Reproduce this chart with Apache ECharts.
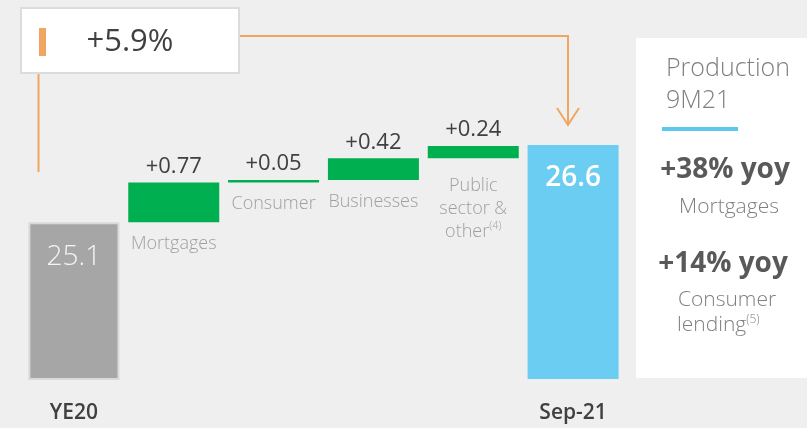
<!DOCTYPE html>
<html>
<head>
<meta charset="utf-8">
<script src="https://cdn.jsdelivr.net/npm/echarts@6/dist/echarts.min.js"></script>
<style>
  html, body { margin: 0; padding: 0; background: #efefef; }
  #chart { width: 807px; height: 428px; }
</style>
</head>
<body>
<div id="chart"></div>
<script>
// data
const categories = ['YE20', 'Mortgages', 'Consumer', 'Businesses', 'Public sector & other', 'Sep-21']
const stepLabels = ['', 'Mortgages', 'Consumer', 'Businesses', 'Public\nsector &\nother{s|(4)}', '']
const startValue = 25.1
const endValue = 26.6
const deltas = [0.77, 0.05, 0.42, 0.24]

const FONT = '"Open Sans", "Noto Sans", sans-serif'
const GREEN = '#00b050'
const ORANGE = '#f0a661'

// 构建瀑布图数据
const baseData = []
const deltaData = []
let running = startValue
baseData.push({
  value: startValue,
  itemStyle: { color: '#a6a6a6', borderColor: '#d9d9d9', borderWidth: 2 },
  label: {
    show: true, position: 'insideTop', distance: 21,
    formatter: String(startValue), color: '#f4f4f4', fontSize: 28, fontWeight: 300
  }
})
deltaData.push('-')
deltas.forEach((d, i) => {
  baseData.push({
    value: +running.toFixed(2),
    itemStyle: { color: 'transparent' },
    label: {
      show: true, position: 'insideTop', distance: i === 3 ? 16 : 10,
      formatter: stepLabels[i + 1], color: '#9f9f9f', fontSize: 18, fontWeight: 300,
      lineHeight: 23, align: 'center',
      rich: { s: { fontSize: 11, verticalAlign: 'top', color: '#9f9f9f', fontWeight: 300, padding: [0, 0, 8, 0] } }
    }
  })
  deltaData.push(d)
  running += d
})
baseData.push({
  value: endValue,
  itemStyle: { color: '#6ccdf3' },
  label: {
    show: true, position: 'insideTop', distance: 19,
    formatter: String(endValue), color: '#ffffff', fontSize: 28, fontWeight: 600
  }
})
deltaData.push('-')

const chart = echarts.init(document.getElementById('chart'))
chart.setOption({
  backgroundColor: '#efefef',
  animation: false,
  textStyle: { fontFamily: FONT },
  grid: { left: 24, right: 184, top: 19, bottom: 49 },
  xAxis: {
    type: 'category',
    data: categories,
    axisLine: { show: false },
    axisTick: { show: false },
    axisLabel: {
      margin: 24,
      interval: 0,
      color: '#404040',
      fontSize: 21,
      fontWeight: 600,
      fontFamily: FONT,
      formatter: (v, i) => (i === 0 || i === categories.length - 1 ? v : '')
    }
  },
  yAxis: {
    type: 'value',
    min: 22.05,
    max: 29.05,
    show: false,
    splitLine: { show: false }
  },
  series: [
    {
      name: 'base',
      type: 'bar',
      stack: 'wf',
      barWidth: 91,
      data: baseData,
      label: { fontFamily: FONT }
    },
    {
      name: 'delta',
      type: 'bar',
      stack: 'wf',
      barWidth: 91,
      itemStyle: { color: GREEN },
      label: {
        show: true,
        position: 'top',
        distance: 5,
        color: '#404040',
        fontSize: 22,
        fontFamily: FONT,
        formatter: p => '+' + p.value.toFixed(2)
      },
      data: deltaData
    }
  ],
  graphic: [
    // 左上角标注
    { type: 'polyline', shape: { points: [[38.5, 73], [38.5, 172]] }, style: { stroke: ORANGE, lineWidth: 2, fill: null } },
    { type: 'polyline', shape: { points: [[239, 36], [568, 36], [568, 125]] }, style: { stroke: ORANGE, lineWidth: 2, fill: null } },
    { type: 'polyline', shape: { points: [[557, 108], [568, 125], [579, 108]] }, style: { stroke: ORANGE, lineWidth: 2, fill: null } },
    { type: 'rect', shape: { x: 21, y: 8, width: 218, height: 65 }, style: { fill: '#ffffff', stroke: '#dcdcdc', lineWidth: 2 } },
    { type: 'rect', shape: { x: 39, y: 28, width: 7, height: 28 }, style: { fill: ORANGE } },
    { type: 'text', x: 130, y: 42, style: { text: '+5.9%', font: '400 31px ' + FONT, fill: '#404040', align: 'center', verticalAlign: 'middle' } },
    // 右侧面板
    { type: 'rect', shape: { x: 636, y: 38, width: 175, height: 340 }, style: { fill: '#ffffff' } },
    { type: 'text', x: 666, y: 69, style: { text: 'Production', font: '300 25px ' + FONT, fill: '#7f7f7f', verticalAlign: 'middle' } },
    { type: 'text', x: 666, y: 101, style: { text: '9M21', font: '300 25px ' + FONT, fill: '#7f7f7f', verticalAlign: 'middle' } },
    { type: 'rect', shape: { x: 662, y: 127, width: 76, height: 4 }, style: { fill: '#5bc8f0' } },
    { type: 'text', x: 725, y: 170, style: { text: '+38% yoy', font: '700 28px ' + FONT, fill: '#595959', align: 'center', verticalAlign: 'middle' } },
    { type: 'text', x: 729, y: 207, style: { text: 'Mortgages', font: '300 21px ' + FONT, fill: '#7f7f7f', align: 'center', verticalAlign: 'middle' } },
    { type: 'text', x: 723, y: 264, style: { text: '+14% yoy', font: '700 28px ' + FONT, fill: '#595959', align: 'center', verticalAlign: 'middle' } },
    { type: 'text', x: 727, y: 300, style: { text: 'Consumer', font: '300 21px ' + FONT, fill: '#7f7f7f', align: 'center', verticalAlign: 'middle' } },
    {
      type: 'text', x: 677, y: 325,
      style: {
        text: 'lending{s|(5)}', font: '300 21px ' + FONT, fill: '#7f7f7f', verticalAlign: 'middle',
        rich: { s: { fontSize: 12, fontFamily: FONT, fontWeight: 300, fill: '#7f7f7f', verticalAlign: 'top', padding: [0, 0, 10, 0] } }
      }
    }
  ]
})
window.addEventListener('resize', () => { chart.resize() })
</script>
</body>
</html>
